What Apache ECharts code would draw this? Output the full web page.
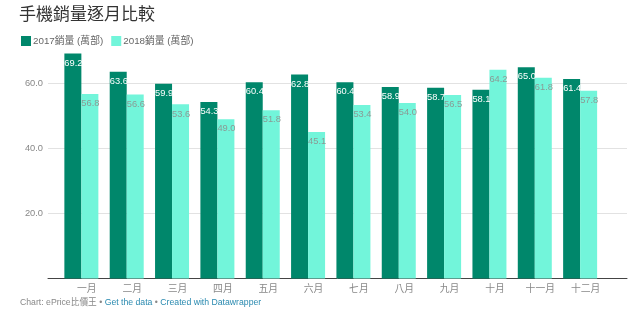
<!DOCTYPE html>
<html><head><meta charset="utf-8">
<script src="https://cdn.jsdelivr.net/npm/echarts@6/dist/echarts.min.js"></script>
<style>html,body{margin:0;padding:0;background:#fff}#c{width:644px;height:324px}</style>
</head><body><div id="c"></div>
<script>
const months = ['一月','二月','三月','四月','五月','六月','七月','八月','九月','十月','十一月','十二月'];
const sales2017 = [69.2, 63.6, 59.9, 54.3, 60.4, 62.8, 60.4, 58.9, 58.7, 58.1, 65.0, 61.4];
const sales2018 = [56.8, 56.6, 53.6, 49.0, 51.8, 45.1, 53.4, 54.0, 56.5, 64.2, 61.8, 57.8];
const seriesNames = ['2017銷量 (萬部)', '2018銷量 (萬部)'];
const titleText = '手機銷量逐月比較';

const FF = "'Liberation Sans','Noto Sans CJK TC',sans-serif";
const chart = echarts.init(document.getElementById('c'), null, {renderer:'canvas'});
const TOP = 51, BOTTOM = 45.5;
chart.setOption({
  animation: false,
  textStyle: {fontFamily: FF},
  title: {text: titleText, left: 14, top: 2, textStyle: {fontFamily: FF, fontSize: 17, fontWeight: 'normal', color: '#333'}},
  legend: {left: 16, top: 31, icon: 'rect', itemWidth: 10, itemHeight: 10, itemGap: 8,
    textStyle: {fontFamily: FF, fontSize: 9.8, color: '#666', padding: [0,0,0,-3]}, data: seriesNames},
  grid: [
    {left: 58.7, right: 41.2, top: TOP, bottom: BOTTOM},
    {left: 48, right: 17, top: TOP, bottom: BOTTOM}
  ],
  xAxis: [
    {type: 'category', gridIndex: 0, data: months, axisLine: {show: false}, axisTick: {show: false},
     axisLabel: {color: '#888', fontSize: 9.8, margin: 6, padding: [0,0,0,11]}},
    {type: 'value', gridIndex: 1, min: 0, max: 1, axisLabel: {show: false}, axisTick: {show: false},
     splitLine: {show: false}, axisLine: {show: true, lineStyle: {color: '#444', width: 1}}}
  ],
  yAxis: [
    {type: 'value', gridIndex: 0, min: 0, max: 70, show: false, splitLine: {show: false}},
    {type: 'value', gridIndex: 1, min: 0, max: 70, interval: 20,
     axisLine: {show: false}, axisTick: {show: false},
     axisLabel: {color: '#888', fontSize: 9.3, margin: 5, showMaxLabel: false,
       formatter: v => v === 0 ? '' : v.toFixed(1)},
     splitLine: {show: true, showMinLine: false, showMaxLine: false, lineStyle: {color: '#e2e2e2', width: 1}}}
  ],
  series: [
    {name: seriesNames[0], type: 'bar', xAxisIndex: 0, yAxisIndex: 0, data: sales2017, barWidth: 17, barGap: '0%',
     itemStyle: {color: '#00876b'},
     label: {show: true, position: [0, 5], align: 'left', verticalAlign: 'top', color: '#fff', fontSize: 9.3,
       formatter: p => p.value.toFixed(1)}},
    {name: seriesNames[1], type: 'bar', xAxisIndex: 0, yAxisIndex: 0, data: sales2018, barWidth: 17, barGap: '0%',
     itemStyle: {color: '#72f5da'},
     label: {show: true, position: [0, 5], align: 'left', verticalAlign: 'top', color: '#8a9a95', fontSize: 9.3,
       formatter: p => p.value.toFixed(1)}}
  ],
  graphic: [{
    type: 'text', left: 20, top: 298,
    style: {
      text: '{g|Chart: ePrice比價王 • }{b|Get the data}{g| • }{b|Created with Datawrapper}',
      rich: {
        g: {fontFamily: FF, fontSize: 8.7, fill: '#888'},
        b: {fontFamily: FF, fontSize: 8.7, fill: '#2a8ab0'}
      }
    }
  }]
});
</script></body></html>
